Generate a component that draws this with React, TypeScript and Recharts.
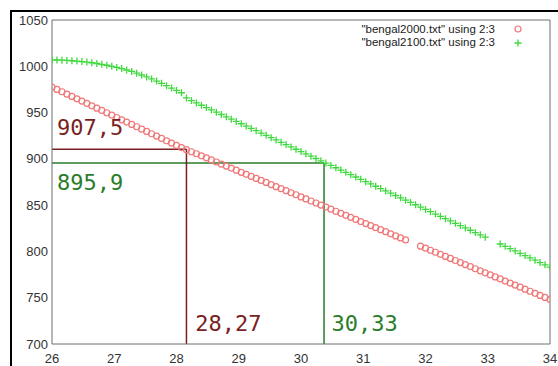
import React from 'react';
import { ScatterChart, Scatter, XAxis, YAxis, ReferenceLine, ReferenceDot } from 'recharts';

const xs = [
  26.00, 26.08, 26.16, 26.24, 26.32, 26.40, 26.48, 26.56, 26.64, 26.72,
  26.80, 26.88, 26.96, 27.04, 27.12, 27.20, 27.28, 27.36, 27.44, 27.52,
  27.60, 27.68, 27.76, 27.84, 27.92, 28.00, 28.08, 28.16, 28.24, 28.32,
  28.40, 28.48, 28.56, 28.64, 28.72, 28.80, 28.88, 28.96, 29.04, 29.12,
  29.20, 29.28, 29.36, 29.44, 29.52, 29.60, 29.68, 29.76, 29.84, 29.92,
  30.00, 30.08, 30.16, 30.24, 30.32, 30.40, 30.48, 30.56, 30.64, 30.72,
  30.80, 30.88, 30.96, 31.04, 31.12, 31.20, 31.28, 31.36, 31.44, 31.52,
  31.60, 31.68, 31.76, 31.84, 31.92, 32.00, 32.08, 32.16, 32.24, 32.32,
  32.40, 32.48, 32.56, 32.64, 32.72, 32.80, 32.88, 32.96, 33.04, 33.12,
  33.20, 33.28, 33.36, 33.44, 33.52, 33.60, 33.68, 33.76, 33.84, 33.92,
  34.00,
];

const bengal2000: (number | null)[] = [
  977.5, 975.0, 972.5, 969.9, 967.4, 964.9, 962.4, 959.9, 957.3, 954.8,
  952.3, 949.8, 947.3, 944.7, 942.2, 939.7, 937.2, 934.7, 932.1, 929.6,
  927.1, 924.6, 922.1, 919.5, 917.0, 914.5, 912.2, 909.9, 907.7, 905.5,
  903.3, 901.1, 898.8, 896.6, 894.4, 892.2, 890.0, 887.8, 885.5, 883.3,
  881.1, 878.9, 876.7, 874.5, 872.2, 870.0, 867.8, 865.6, 863.4, 861.2,
  858.9, 856.7, 854.5, 852.3, 850.1, 847.9, 845.6, 843.4, 841.2, 839.0,
  836.8, 834.6, 832.3, 830.1, 827.9, 825.7, 823.5, 821.3, 819.0, 816.8,
  814.6, 812.4, null, null, 805.7, 803.5, 801.3, 799.1, 796.9, 794.6,
  792.4, 790.2, 788.0, 785.8, 783.6, 781.3, 779.1, 776.9, 774.7, 772.5,
  770.3, 768.0, 765.8, 763.6, 761.4, 759.2, 757.0, 754.7, 752.5, 750.3,
  748.1,
];

const bengal2100: (number | null)[] = [
  1007.0, 1006.8, 1006.6, 1006.3, 1006.0, 1005.6, 1005.1, 1004.5, 1003.8, 1003.0,
  1002.1, 1001.1, 1000.0, 998.8, 997.5, 996.0, 994.4, 992.6, 990.6, 988.5,
  986.3, 984.0, 981.6, 979.1, 976.5, 973.9, 971.4, 965.8, 963.0, 960.4,
  957.9, 955.4, 952.9, 950.4, 947.9, 945.4, 942.9, 940.4, 937.9, 935.4,
  932.9, 930.4, 927.9, 925.4, 922.9, 920.4, 917.9, 915.4, 912.9, 910.4,
  907.9, 905.4, 902.9, 900.4, 897.9, 895.4, 892.9, 890.4, 887.9, 885.4,
  882.9, 880.4, 877.9, 875.4, 872.9, 870.4, 867.9, 865.4, 862.9, 860.4,
  857.9, 855.4, 852.9, 850.4, 847.9, 845.4, 842.9, 840.4, 837.9, 835.4,
  832.9, 830.4, 827.9, 825.4, 822.9, 820.4, 817.9, 815.4, null, null,
  808.0, 805.5, 803.0, 800.5, 798.0, 795.5, 793.0, 790.5, 788.0, 785.5,
  783.0,
];

const xTicks = [26, 27, 28, 29, 30, 31, 32, 33, 34];
const yTicks = [700, 750, 800, 850, 900, 950, 1000, 1050];

const legendLabels = ['"bengal2000.txt" using 2:3', '"bengal2100.txt" using 2:3'];

// annotation values
const markX = [28.16, 30.37];
const markY = [910.5, 895.5];
const markYLabels = ['907,5', '895,9'];
const markXLabels = ['28,27', '30,33'];

const RED = '#f07878';
const GREEN = '#3fd83f';
const MAROON = '#7a1f22';
const DKGREEN = '#2a7d2a';
const AXIS = '#6e6e6e';

const toData = (ys: (number | null)[]) =>
  xs.map((x, i) => ({ x, y: ys[i] })).filter((d) => d.y != null);

const red = toData(bengal2000);
const green = toData(bengal2100);

const Circle = (p: any) => (
  <circle cx={p.cx} cy={p.cy} r={3} fill="none" stroke={RED} strokeWidth={1.2} />
);
const Plus = (p: any) => (
  <path
    d={`M${p.cx - 3.5},${p.cy}h7M${p.cx},${p.cy - 3.5}v7`}
    stroke={GREEN}
    strokeWidth={1.3}
    fill="none"
  />
);

const textShape = (label: string, color: string) => (p: any) => (
  <text
    x={p.cx}
    y={p.cy}
    fill={color}
    fontSize={22}
    fontFamily="DejaVu Sans Mono"
    textAnchor="start"
  >
    {label}
  </text>
);

const domX: [number, number] = [26, 34];
const domY: [number, number] = [700, 1050];

export default function App() {
  const colors = [MAROON, DKGREEN];
  return (
    <div style={{ position: 'absolute', left: 0, top: 0, width: 558, height: 366, background: '#fff' }}>
      <ScatterChart width={558} height={366} margin={{ top: 20, right: 8, bottom: 0, left: 12 }}>
        <XAxis
          xAxisId="b"
          dataKey="x"
          type="number"
          domain={domX}
          ticks={xTicks}
          allowDataOverflow
          tickLine={false}
          axisLine={{ stroke: AXIS }}
          tick={{ fontSize: 13, fill: '#333', fontFamily: 'Liberation Sans' }}
          tickSize={0}
          tickMargin={10}
          height={22}
        />
        <XAxis
          xAxisId="bi"
          type="number"
          domain={domX}
          ticks={xTicks}
          allowDataOverflow
          orientation="bottom"
          mirror
          axisLine={false}
          tick={false}
          tickSize={4}
          tickLine={{ stroke: AXIS }}
        />
        <XAxis
          xAxisId="t"
          type="number"
          domain={domX}
          ticks={xTicks}
          allowDataOverflow
          orientation="top"
          mirror
          axisLine={{ stroke: AXIS }}
          tick={false}
          tickSize={4}
          tickLine={{ stroke: AXIS }}
        />
        <YAxis
          yAxisId="l"
          dataKey="y"
          type="number"
          domain={domY}
          ticks={yTicks}
          allowDataOverflow
          tickLine={false}
          axisLine={{ stroke: AXIS }}
          tick={{ fontSize: 13, fill: '#333', fontFamily: 'Liberation Sans' }}
          tickSize={0}
          tickMargin={4}
          width={40}
        />
        <YAxis
          yAxisId="li"
          type="number"
          domain={domY}
          ticks={yTicks}
          allowDataOverflow
          orientation="left"
          mirror
          axisLine={false}
          tick={false}
          tickSize={4}
          tickLine={{ stroke: AXIS }}
        />
        <YAxis
          yAxisId="r"
          type="number"
          domain={domY}
          ticks={yTicks}
          allowDataOverflow
          orientation="right"
          mirror
          axisLine={{ stroke: AXIS }}
          tick={false}
          tickSize={4}
          tickLine={{ stroke: AXIS }}
        />
        {markX.map((mx, i) => (
          <ReferenceLine
            key={`h${i}`}
            xAxisId="b"
            yAxisId="l"
            segment={[{ x: 26, y: markY[i] }, { x: mx, y: markY[i] }]}
            stroke={colors[i]}
            strokeWidth={1.5}
          />
        ))}
        {markX.map((mx, i) => (
          <ReferenceLine
            key={`v${i}`}
            xAxisId="b"
            yAxisId="l"
            segment={[{ x: mx, y: markY[i] }, { x: mx, y: 700 }]}
            stroke={colors[i]}
            strokeWidth={1.5}
          />
        ))}
        <Scatter
          xAxisId="b"
          yAxisId="l"
          data={red}
          shape={Circle}
          isAnimationActive={false}
        />
        <Scatter
          xAxisId="b"
          yAxisId="l"
          data={green}
          shape={Plus}
          isAnimationActive={false}
        />
        <ReferenceDot xAxisId="b" yAxisId="l" x={26.08} y={925.8} shape={textShape(markYLabels[0], MAROON)} />
        <ReferenceDot xAxisId="b" yAxisId="l" x={26.08} y={866.4} shape={textShape(markYLabels[1], DKGREEN)} />
        <ReferenceDot xAxisId="b" yAxisId="l" x={28.3} y={714} shape={textShape(markXLabels[0], MAROON)} />
        <ReferenceDot xAxisId="b" yAxisId="l" x={30.49} y={714} shape={textShape(markXLabels[1], DKGREEN)} />
      </ScatterChart>
      <svg
        width={558}
        height={366}
        style={{ position: 'absolute', left: 0, top: 0, pointerEvents: 'none' }}
      >
        <line x1={11} y1={10} x2={11} y2={366} stroke="#000" strokeWidth={2} />
        <line x1={10} y1={11} x2={558} y2={11} stroke="#000" strokeWidth={2} />
        {legendLabels.map((l, i) => (
          <text
            key={l}
            x={495}
            y={33 + i * 13}
            textAnchor="end"
            fontSize={11.5}
            fontFamily="Liberation Sans"
            fill="#222"
          >
            {l}
          </text>
        ))}
        <circle cx={518} cy={29} r={3} fill="none" stroke={RED} strokeWidth={1.2} />
        <path d="M514.5,43h7M518,39.5v7" stroke={GREEN} strokeWidth={1.3} fill="none" />
      </svg>
    </div>
  );
}
